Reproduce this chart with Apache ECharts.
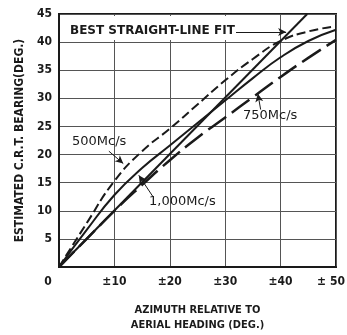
<!DOCTYPE html>
<html>
<head>
<meta charset="utf-8">
<script src="https://cdn.jsdelivr.net/npm/echarts@6/dist/echarts.min.js"></script>
<style>
html, body { margin: 0; padding: 0; background: #fff; }
#chart { width: 347px; height: 335px; }
</style>
</head>
<body>
<div id="chart"></div>
<script>
// azimuth relative to aerial heading (deg)
var azimuth = [0, 5, 10, 15, 20, 25, 30, 35, 40, 45, 50];
// estimated C.R.T. bearing (deg)
var bearing500 = [0, 7.8, 15.3, 20.6, 24.6, 28.9, 33.2, 37.0, 40.2, 41.9, 42.8];
var bearing1000 = [0, 6.6, 12.8, 17.6, 21.6, 25.6, 29.6, 33.6, 37.3, 40.2, 42.2];
var bearing750 = [0, 5, 10, 14.6, 19, 23, 26.6, 30.2, 33.8, 37.2, 40.4];
var fitX = [0, 44.8];
var fitY = [0, 45];

var FONT = "'DejaVu Sans Condensed', 'DejaVu Sans', sans-serif";
var WIDE = "'DejaVu Sans', sans-serif";
var INK = '#1a1a1a';

function pairs(xs, ys) {
    return xs.map(function (x, i) { return [x, ys[i]]; });
}

function arrow(from, to) {
    return [{ coord: from }, { coord: to }];
}

document.addEventListener("DOMContentLoaded", function () {
    var chart = echarts.init(document.getElementById('chart'), null, { renderer: 'canvas' });

    var arrowStyle = {
        silent: true,
        symbol: ['none', 'arrow'],
        symbolSize: [6, 8],
        label: { show: false },
        lineStyle: { color: INK, width: 1, type: 'solid' },
        animation: false
    };
    var tickFont = { fontFamily: FONT, fontSize: 12, color: INK, fontWeight: 'bold' };

    var option = {
        animation: false,
        backgroundColor: '#fff',
        grid: {
            left: 59, right: 11, top: 14, bottom: 68,
            containLabel: false,
            outerBoundsMode: 'none',
            show: true, borderColor: INK, borderWidth: 2
        },
        xAxis: {
            type: 'value',
            min: 0, max: 50, interval: 10,
            name: 'AZIMUTH RELATIVE TO\nAERIAL HEADING (DEG.)',
            nameLocation: 'middle',
            nameGap: 36,
            nameTextStyle: { fontFamily: FONT, fontSize: 11, color: INK, lineHeight: 15, fontWeight: 'bold' },
            axisLine: { show: true, lineStyle: { color: INK, width: 2 } },
            axisTick: { show: false },
            splitLine: { show: true, lineStyle: { color: '#555', width: 1 } },
            axisLabel: {
                margin: 9,
                fontFamily: FONT, fontSize: 12, color: INK, fontWeight: 'bold',
                formatter: function (v) {
                    if (v === 0) return '{z|0}';
                    if (v === 50) return '{e|\u00b1 50}';
                    return '\u00b1' + v;
                },
                rich: {
                    z: Object.assign({ padding: [0, 22, 0, 0] }, tickFont),
                    e: Object.assign({ padding: [0, 10, 0, 0] }, tickFont)
                }
            }
        },
        yAxis: {
            type: 'value',
            min: 0, max: 45, interval: 5,
            name: 'ESTIMATED C.R.T. BEARING(DEG.)',
            nameLocation: 'middle',
            nameGap: 27,
            nameTextStyle: { fontFamily: FONT, fontSize: 12, color: INK, fontWeight: 'bold' },
            axisLine: { show: true, lineStyle: { color: INK, width: 2 } },
            axisTick: { show: false },
            splitLine: { show: true, lineStyle: { color: '#555', width: 1 } },
            axisLabel: {
                margin: 7,
                fontFamily: FONT, fontSize: 12, color: INK, fontWeight: 'bold',
                formatter: function (v) { return v === 0 ? '' : String(v); }
            }
        },
        graphic: [
            {
                type: 'rect', z: 50, silent: true,
                shape: { x: 61, y: 16, width: 175, height: 24 },
                style: { fill: '#fff' }
            },
            {
                type: 'text', z: 60, silent: true, left: 70, top: 25,
                style: { text: 'BEST STRAIGHT-LINE FIT', fontFamily: WIDE, fontSize: 12, fontWeight: 'bold', fill: INK }
            },
            {
                type: 'text', z: 60, silent: true, left: 72, top: 135,
                style: { text: '500Mc/s', fontFamily: WIDE, fontSize: 13, fill: INK }
            },
            {
                type: 'text', z: 60, silent: true, left: 149, top: 195,
                style: { text: '1,000Mc/s', fontFamily: WIDE, fontSize: 13, fill: INK }
            },
            {
                type: 'text', z: 60, silent: true, left: 243, top: 109,
                style: { text: '750Mc/s', fontFamily: WIDE, fontSize: 13, fill: INK }
            }
        ],
        series: [
            {
                name: 'best fit', type: 'line', z: 3,
                data: pairs(fitX, fitY),
                symbol: 'none',
                lineStyle: { color: INK, width: 2 },
                markLine: Object.assign({}, arrowStyle, {
                    data: [arrow([31.8, 41.8], [41.0, 41.8])]
                })
            },
            {
                name: '500 Mc/s', type: 'line', z: 3, smooth: true,
                data: pairs(azimuth, bearing500),
                symbol: 'none',
                lineStyle: { color: INK, width: 2, type: [9, 4] },
                markLine: Object.assign({}, arrowStyle, {
                    data: [arrow([9.0, 20.6], [11.6, 18.4])]
                })
            },
            {
                name: '1,000 Mc/s', type: 'line', z: 3, smooth: true,
                data: pairs(azimuth, bearing1000),
                symbol: 'none',
                lineStyle: { color: INK, width: 2 },
                markLine: Object.assign({}, arrowStyle, {
                    data: [arrow([16.9, 12.6], [14.4, 16.3])]
                })
            },
            {
                name: '750 Mc/s', type: 'line', z: 3, smooth: true,
                data: pairs(azimuth, bearing750),
                symbol: 'none',
                lineStyle: { color: INK, width: 2.5, type: [22, 7] },
                markLine: Object.assign({}, arrowStyle, {
                    data: [arrow([36.4, 28.0], [35.9, 30.8])]
                })
            }
        ]
    };
    chart.setOption(option);
});
</script>
</body>
</html>
